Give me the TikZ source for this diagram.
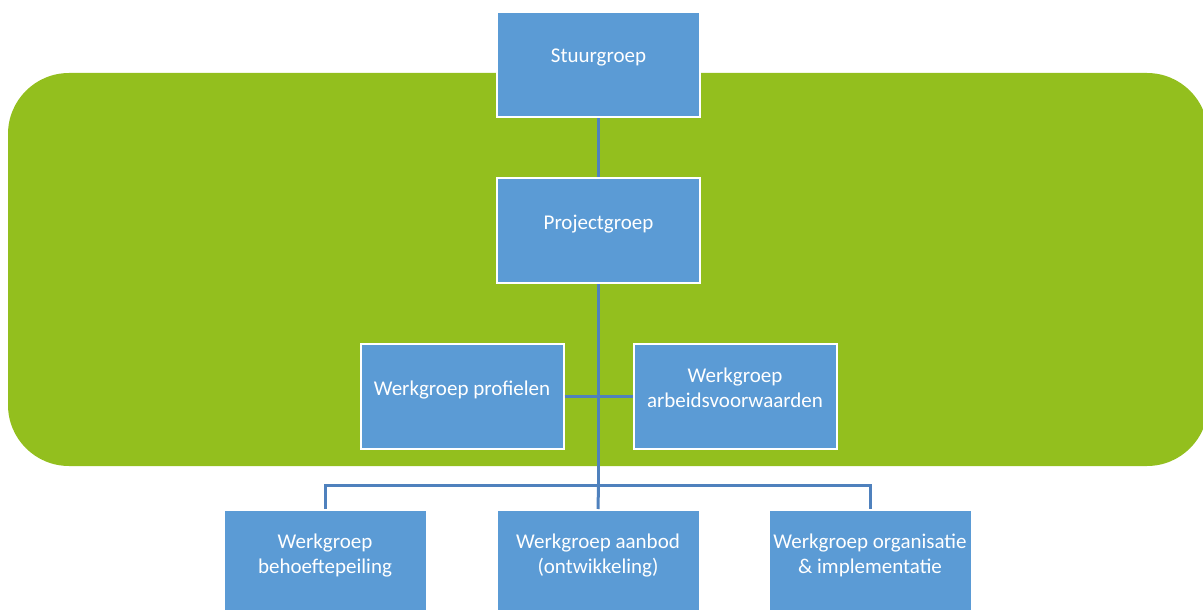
\documentclass[tikz,border=0pt]{standalone}
\usepackage{fontspec}
\setmainfont{Carlito}
\definecolor{bandgreen}{RGB}{147, 191, 30}
\definecolor{boxblue}{RGB}{91, 155, 213}
\definecolor{linkblue}{RGB}{79, 129, 189}
\usetikzlibrary{positioning}

\begin{document}
\begin{tikzpicture}[
    x=1pt, y=-1pt,
    node distance=59pt,
    groep/.style={rectangle, draw=white, line width=2pt, fill=boxblue, minimum width=203pt, minimum height=105pt, align=center, text=white, text depth=17pt, font=\fontsize{21}{25}\selectfont},
    lijn/.style={draw=linkblue, line width=3pt}
]
\clip (0,0) rectangle (1203,610);

% green band behind the upper groups
\fill[bandgreen, rounded corners=61pt] (8,73) rectangle (1208,466);

\node[groep] (stuur) at (598.5,64.5) {Stuurgroep};
\node[groep, below=of stuur] (project) {Projectgroep};
\node[groep, below=of project, xshift=-136.5pt] (profielen) {Werkgroep profielen};
\node[groep, below=of project, xshift=136.5pt] (arbeid) {Werkgroep\\arbeidsvoorwaarden};
\node[groep, below=59pt of profielen, xshift=-137pt] (behoefte) {Werkgroep\\behoeftepeiling};
\node[groep, right=68pt of behoefte] (aanbod) {Werkgroep aanbod\\(ontwikkeling)};
\node[groep, right=67pt of aanbod] (organisatie) {Werkgroep organisatie\\\& implementatie};

\coordinate (bus) at (598.5,485);

\draw[lijn] (stuur) -- (project);
\draw[lijn] (project) -- (bus);
\draw[lijn] (profielen) -- (arbeid);
\draw[lijn] (behoefte.north) |- (bus) -| (organisatie.north);
\draw[lijn] (bus) -- (aanbod.north);

\end{tikzpicture}
\end{document}
